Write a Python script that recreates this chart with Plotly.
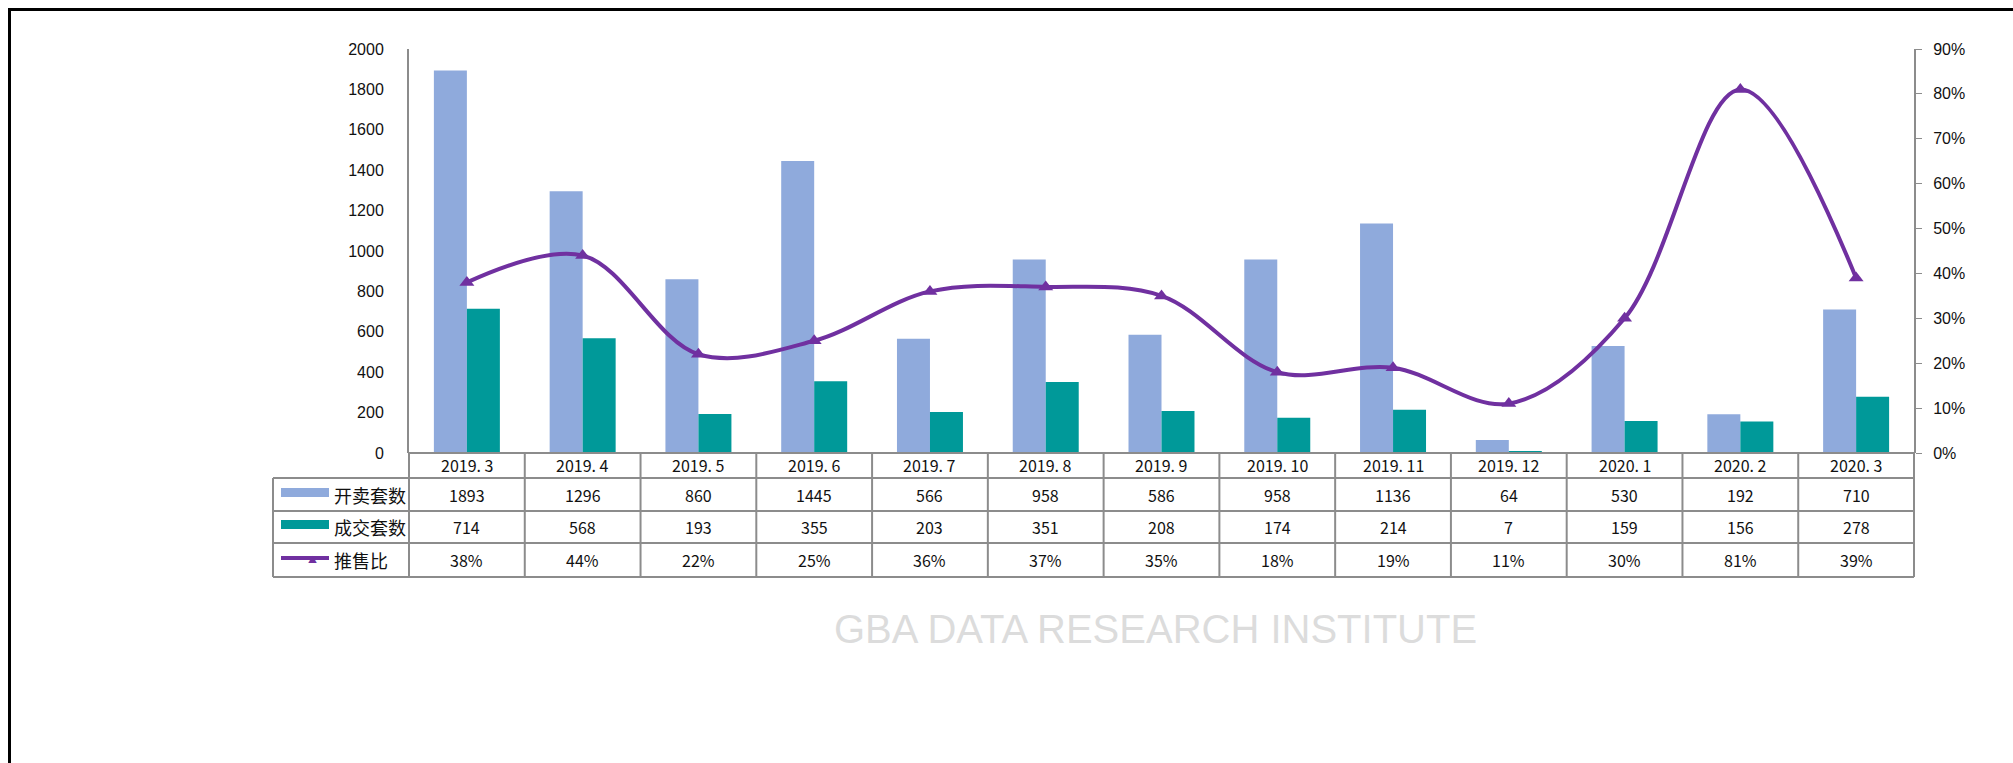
import plotly.graph_objects as go

categories = ["2019. 3", "2019. 4", "2019. 5", "2019. 6", "2019. 7", "2019. 8", "2019. 9",
              "2019. 10", "2019. 11", "2019. 12", "2020. 1", "2020. 2", "2020. 3"]
open_units = [1893, 1296, 860, 1445, 566, 958, 586, 958, 1136, 64, 530, 192, 710]
deal_units = [714, 568, 193, 355, 203, 351, 208, 174, 214, 7, 159, 156, 278]
ratio = [0.38, 0.44, 0.22, 0.25, 0.36, 0.37, 0.35, 0.18, 0.19, 0.11, 0.30, 0.81, 0.39]
series_names = ["开卖套数", "成交套数", "推售比"]

BLUE = "#8FAADC"
TEAL = "#009999"
PURPLE = "#7030A0"
GRID = "#8c8c8c"
FONT_CJK = "Noto Sans CJK SC"

# figure geometry in screen pixels (body margin removed, figure fills the window)
FW, FH = 2013, 763
PL, PR, PT, PB = 409, 1914, 49, 453
W, H = PR - PL, PB - PT


def px_x(sx):
    return (sx - PL) / W


def px_y(sy):
    return (PB - sy) / H


fig = go.Figure()
fig.add_trace(go.Bar(x=categories, y=open_units, name=series_names[0], marker_color=BLUE,
                     marker_line_width=0, yaxis="y"))
fig.add_trace(go.Bar(x=categories, y=deal_units, name=series_names[1], marker_color=TEAL,
                     marker_line_width=0, yaxis="y"))
fig.add_trace(go.Scatter(x=categories, y=ratio, name=series_names[2], mode="lines+markers",
                         line=dict(color=PURPLE, width=4, shape="spline", smoothing=1.0),
                         marker=dict(symbol="triangle-up", size=13, color=PURPLE),
                         yaxis="y2", cliponaxis=False))

shapes = []
annotations = []

# table rows (screen y of row boundaries)
row_y = [453, 478, 511, 543, 577]
ry = [px_y(v) for v in row_y]
legend_left = px_x(273)

line_style = dict(color=GRID, width=2)
shapes.append(dict(type="line", xref="paper", yref="paper", x0=0, x1=1, y0=ry[0], y1=ry[0], line=line_style))
for k in range(1, 5):
    shapes.append(dict(type="line", xref="paper", yref="paper", x0=legend_left, x1=1,
                       y0=ry[k], y1=ry[k], line=line_style))
n = len(categories)
for i in range(n + 1):
    shapes.append(dict(type="line", xref="paper", yref="paper", x0=i / n, x1=i / n,
                       y0=ry[0], y1=ry[4], line=line_style))
shapes.append(dict(type="line", xref="paper", yref="paper", x0=legend_left, x1=legend_left,
                   y0=ry[1], y1=ry[4], line=line_style))

# legend icons
ix0, ix1 = px_x(281), px_x(329)
shapes.append(dict(type="rect", xref="paper", yref="paper", x0=ix0, x1=ix1,
                   y0=px_y(488), y1=px_y(497), fillcolor=BLUE, line_width=0))
shapes.append(dict(type="rect", xref="paper", yref="paper", x0=ix0, x1=ix1,
                   y0=px_y(520), y1=px_y(529), fillcolor=TEAL, line_width=0))
shapes.append(dict(type="line", xref="paper", yref="paper", x0=ix0, x1=ix1,
                   y0=px_y(558), y1=px_y(558), line=dict(color=PURPLE, width=4)))
annotations.append(dict(xref="paper", yref="paper", x=px_x(306), y=px_y(559), text="▲",
                        showarrow=False, yanchor="middle",
                        font=dict(color=PURPLE, size=9, family=FONT_CJK)))

# border frame (top and left only visible)
shapes.append(dict(type="line", xref="paper", yref="paper", x0=px_x(8), x1=px_x(FW),
                   y0=px_y(9.5), y1=px_y(9.5), line=dict(color="black", width=3)))
shapes.append(dict(type="line", xref="paper", yref="paper", x0=px_x(9.5), x1=px_x(9.5),
                   y0=px_y(8), y1=px_y(FH), line=dict(color="black", width=3)))

cell_font = dict(family=FONT_CJK, size=16, color="#111111")
row_centers = [(ry[k] + ry[k + 1]) / 2 for k in range(4)]
rows = [categories,
        [str(v) for v in open_units],
        [str(v) for v in deal_units],
        [f"{round(v * 100):d}%" for v in ratio]]
for k, vals in enumerate(rows):
    for c, txt in zip(categories, vals):
        annotations.append(dict(xref="x", yref="paper", x=c, y=row_centers[k], text=txt,
                                showarrow=False, yanchor="middle", font=cell_font))
for k, name in enumerate(series_names):
    annotations.append(dict(xref="paper", yref="paper", x=px_x(332), y=row_centers[k + 1],
                            text=name, showarrow=False, xanchor="left", yanchor="middle",
                            font=dict(family=FONT_CJK, size=18, color="#111111")))

# watermark text
annotations.append(dict(xref="paper", yref="paper", x=px_x(1155), y=px_y(629),
                        text="GBA DATA RESEARCH INSTITUTE", showarrow=False, yanchor="middle",
                        font=dict(family="Liberation Sans", size=40, color="rgba(190,190,190,0.55)")))

fig.update_layout(
    width=FW, height=FH,
    margin=dict(l=PL, r=FW - PR, t=PT, b=FH - PB, pad=0),
    paper_bgcolor="white", plot_bgcolor="white",
    barmode="group", bargap=0.43, bargroupgap=0,
    showlegend=False,
    shapes=shapes, annotations=annotations,
    xaxis=dict(type="category", range=[-0.5, n - 0.5], showticklabels=False, showgrid=False,
               zeroline=False, showline=False, ticks=""),
    yaxis=dict(range=[0, 2000], dtick=200, showgrid=False, zeroline=False, showline=True,
               linecolor=GRID, linewidth=2, ticks="", ticklabelstandoff=20,
               tickfont=dict(family="Liberation Sans", size=16, color="#111111")),
    yaxis2=dict(range=[0, 0.9], dtick=0.1, tickformat=".0%", overlaying="y", side="right",
                showgrid=False, zeroline=False, showline=True, linecolor=GRID, linewidth=2,
                ticks="outside", ticklen=6, tickcolor=GRID, tickwidth=1, ticklabelstandoff=8,
                tickfont=dict(family="Liberation Sans", size=16, color="#111111")),
)

fig.write_html("out.html", config={"displayModeBar": False},
               post_script="document.body.style.margin='0';document.body.style.overflow='hidden';"
                           "document.documentElement.style.overflow='hidden';")
